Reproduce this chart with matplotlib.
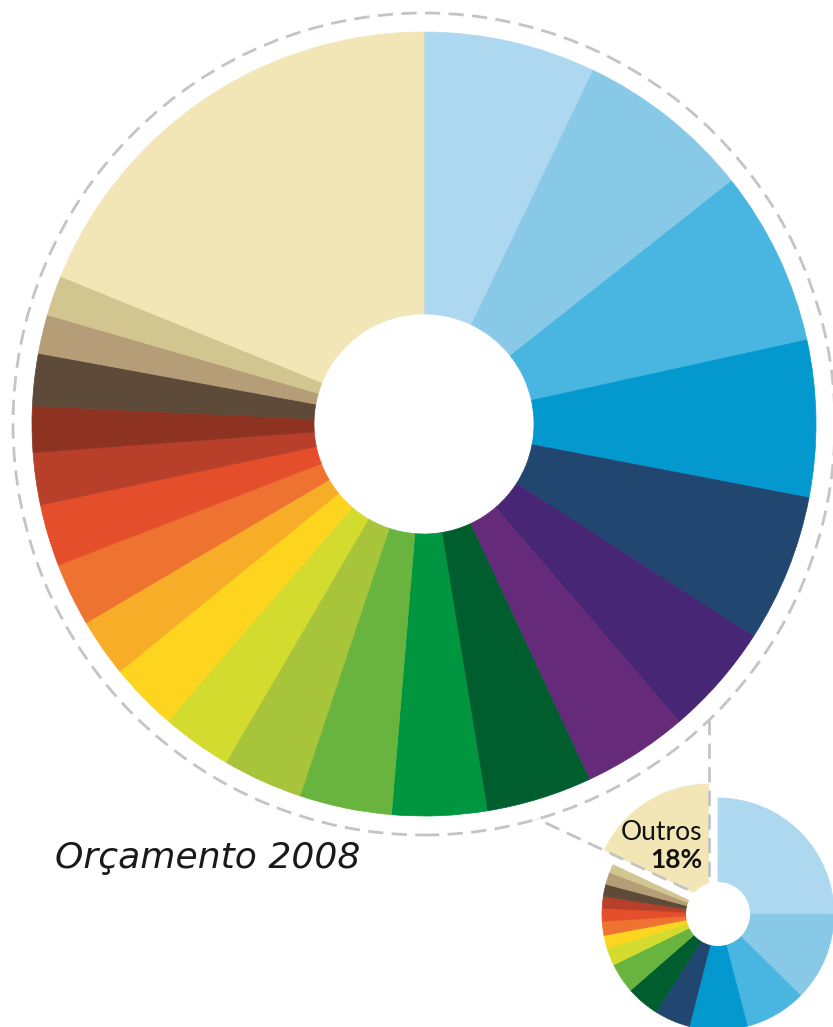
import numpy as np
import matplotlib
matplotlib.use('Agg')
import matplotlib.pyplot as plt
import matplotlib.patches as patches

W, H = 833, 1027

# --- fatias do grafico grande (sentido horario a partir das 12h), em % ---
big_values = [7.1, 7.25, 7.2, 6.45, 6.1, 4.6, 4.35, 4.35, 3.9, 3.8, 3.3,
              2.9, 2.8, 2.4, 2.6, 2.55, 2.15, 1.9, 2.15, 1.6, 1.65, 18.85]
big_colors = ["#add8ef", "#88c9e8", "#48b6e0", "#0399cf", "#21466f", "#462675",
              "#662a7a", "#005e2e", "#009640", "#68b43e", "#a8c43a", "#d3db2e",
              "#fdd51e", "#f7ad28", "#ee7330", "#e54e2a", "#b8402a", "#8e3322",
              "#5e4a38", "#b49d77", "#d2c690", "#f2e6b6"]

# --- grafico pequeno (orcamento total), ultima fatia = Outros ---
small_values = [25, 12.4, 8.5, 8.05, 5, 4.6, 4.2, 2.4, 1.85, 1.95, 1.8,
                1.65, 1.7, 1.7, 1.15, 18]
small_colors = ["#add8ef", "#88c9e8", "#48b6e0", "#0399cf", "#21466f", "#005e2e",
                "#68b43e", "#d3db2e", "#fdd51e", "#ee7330", "#e54e2a", "#b8402a",
                "#5e4a38", "#b49d77", "#d2c690", "#f2e6b6"]
small_explode = [0] * 15 + [0.147]   # fracao do raio

title = "Orçamento 2008"
outros_label = "Outros"
outros_pct = "18%"

# geometria em pixels (y para cima)
big_c = (424, H - 424)
big_r, big_hole, ring_r = 392, 110, 411
small_c = (718, H - 914)
small_r, small_hole = 116, 32
dash_color = "#c4c4c4"

fig = plt.figure(figsize=(W / 100, H / 100), dpi=100)
ax = fig.add_axes([0, 0, 1, 1])

wedges, _ = ax.pie(big_values, colors=big_colors, center=big_c, radius=big_r,
                   startangle=90, counterclock=False, frame=True,
                   wedgeprops=dict(width=big_r - big_hole))
for w in wedges:
    w.set_edgecolor(w.get_facecolor())
    w.set_linewidth(0.5)

# explode do pie e' em unidades de dados, nao fracao do raio
swedges, _ = ax.pie(small_values, colors=small_colors, center=small_c, radius=small_r,
                    startangle=90, counterclock=False, frame=True,
                    explode=[e * small_r for e in small_explode])
for w in swedges[:-1]:
    w.set_edgecolor(w.get_facecolor())
    w.set_linewidth(0.5)
swedges[-1].set_linewidth(0)

# anel tracejado em volta do grafico grande
ax.add_patch(patches.Circle(big_c, ring_r, fill=False, ec=dash_color, lw=2,
                            ls=(0, (5.5, 3)), zorder=3))

# linhas ligando a fatia "Outros" ao anel
outros_w = swedges[-1]
apex = np.array(outros_w.center)
C = np.array(big_c)
for ang in (outros_w.theta1, outros_w.theta2):
    d = np.array([np.cos(np.radians(ang)), np.sin(np.radians(ang))])
    u = apex - C
    b = u @ d
    t = -b - np.sqrt(b * b - u @ u + ring_r ** 2)
    p = apex + t * d
    ax.plot([apex[0], p[0]], [apex[1], p[1]], color=dash_color, lw=2,
            ls=(0, (5.5, 3)), zorder=3, solid_capstyle='butt')

# furo do grafico pequeno
ax.add_patch(patches.Circle(small_c, small_hole, fc="white", ec="none", zorder=4))

ax.text(702, H - 833, outros_label, ha="right", va="center", fontsize=19,
        family="Lato", color="#111111", zorder=5)
ax.text(702, H - 860, outros_pct, ha="right", va="center", fontsize=19,
        family="Lato", fontweight="bold", color="#111111", zorder=5)

ax.text(55, H - 858, title, ha="left", va="center", fontsize=26,
        family="DejaVu Sans", style="italic", color="#1a1a1a")

ax.set_xlim(0, W)
ax.set_ylim(0, H)
ax.set_aspect("equal")
ax.axis("off")

plt.savefig("out.png", dpi=100)
